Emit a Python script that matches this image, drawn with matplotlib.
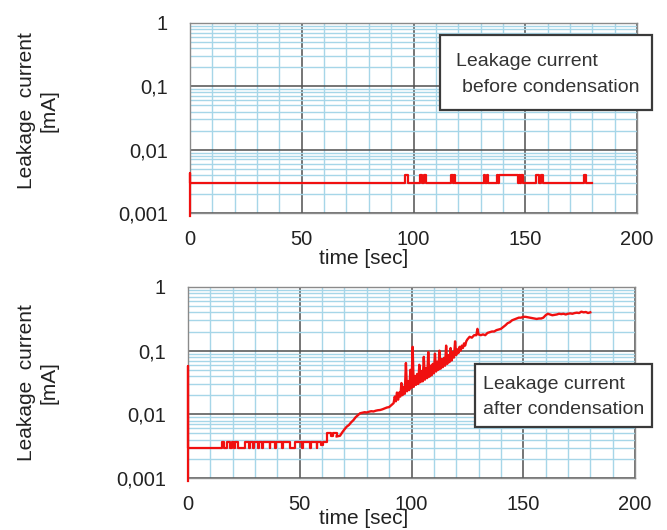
import matplotlib
matplotlib.use("Agg")
import matplotlib.pyplot as plt
from matplotlib.patches import Rectangle
from matplotlib.ticker import FixedLocator, LogLocator, NullFormatter

plt.rcParams['font.family'] = ['Liberation Sans', 'DejaVu Sans']

# ---------------- data ----------------
x_ticks = [0, 50, 100, 150, 200]
x_tick_labels = ["0", "50", "100", "150", "200"]
y_ticks = [0.001, 0.01, 0.1, 1]
y_tick_labels = ["0,001", "0,01", "0,1", "1"]

# before condensation (step trace)
before_t = [0, 0, 0, 96.0, 97.4, 102.8, 104.0, 104.6, 105.8, 117.0, 117.6, 118.0, 118.6,
            131.6, 132.2, 132.8, 133.4, 137.2, 137.8, 138.4, 146.6, 147.0, 147.5, 148.0, 149.1,
            155.0, 156.3, 156.9, 158.0, 176.3, 177.4, 179.7]
before_v = [0.0009, 0.0043, 0.003, 0.004, 0.003, 0.004, 0.003, 0.004, 0.003, 0.004, 0.003, 0.004, 0.003,
            0.004, 0.003, 0.004, 0.003, 0.004, 0.003, 0.004, 0.003, 0.004, 0.003, 0.004, 0.003,
            0.004, 0.003, 0.004, 0.003, 0.004, 0.003, 0.003]

# after condensation: early step part
after_step_t = [0, 0, 0, 15.1, 16.3, 17.3, 18.8, 19.5, 20.6, 21.2, 22.5,
                25.5, 27.2, 27.6, 29.0, 29.6, 31.5, 31.9, 33.0, 33.6, 36.5, 36.9, 39.0,
                39.5, 42.2, 42.6, 45.6, 47.9, 51.0, 51.4, 54.5, 54.9, 57.5, 57.9, 59.5,
                60.5, 62.0, 64.0, 65.0, 66.5]
after_step_v = [0.0009, 0.058, 0.003, 0.0037, 0.003, 0.0037, 0.003, 0.0037, 0.003, 0.0037, 0.003,
                0.0037, 0.003, 0.0037, 0.003, 0.0037, 0.003, 0.0037, 0.003, 0.0037, 0.003, 0.0037, 0.003,
                0.0037, 0.003, 0.0037, 0.003, 0.0037, 0.003, 0.0037, 0.003, 0.0037, 0.003, 0.0037, 0.0033,
                0.0037, 0.0051, 0.0045, 0.0051, 0.0045]

# after condensation: rising part
after_t = [66.5, 68, 69, 70, 71, 72, 73, 74, 75, 76, 77, 78, 79, 80, 81, 82, 83, 84, 85, 86, 87, 88,
           89, 90, 91, 92, 92.5, 93, 93.5,
           94, 94.5, 95, 95.5, 96, 96.5, 97, 97.5, 98, 98.5, 99, 99.5,
           100, 100.5, 101, 101.5, 102, 102.5, 103, 103.5, 104, 104.5, 105, 105.5,
           106, 106.5, 107, 107.5, 108, 108.5, 109, 109.5, 110, 110.5, 111, 111.5,
           112, 112.5, 113, 113.5, 114, 114.5, 115, 115.5, 116, 116.5, 117, 117.5,
           118, 118.5, 119, 119.5, 120, 120.5, 121, 121.5, 122, 122.5, 123, 123.5,
           124, 124.5, 125, 126, 127, 128, 129, 129.5, 130, 131, 132, 133, 134,
           135, 136, 137, 138, 139, 140, 141, 142, 143, 144, 145, 146, 147, 148, 149, 150, 151,
           152, 153, 154, 155, 156, 157, 158, 159, 160, 161, 162, 163, 164, 165, 166, 167, 168,
           169, 170, 171, 172, 173, 174, 175, 176, 177, 178, 179, 180]
after_v = [0.0045, 0.0046, 0.0052, 0.0058, 0.0064, 0.0068, 0.0075, 0.0081, 0.009, 0.0097, 0.0104,
           0.0106, 0.0108, 0.0107, 0.011, 0.0112, 0.0111, 0.0114, 0.0116, 0.0117, 0.012, 0.0124,
           0.0128, 0.013, 0.014, 0.015, 0.019, 0.016, 0.022,
           0.017, 0.022, 0.019, 0.031, 0.02, 0.027, 0.021, 0.064, 0.023, 0.033, 0.024, 0.05,
           0.026, 0.115, 0.027, 0.04, 0.029, 0.043, 0.03, 0.06, 0.032, 0.048, 0.033, 0.08,
           0.035, 0.053, 0.037, 0.095, 0.039, 0.058, 0.041, 0.062, 0.044, 0.09, 0.047, 0.067,
           0.05, 0.1, 0.052, 0.074, 0.055, 0.077, 0.058, 0.12, 0.062, 0.085, 0.066, 0.11,
           0.07, 0.095, 0.078, 0.14, 0.085, 0.105, 0.092, 0.115, 0.1, 0.12, 0.11, 0.13,
           0.12, 0.14, 0.15, 0.165, 0.16, 0.175, 0.175, 0.22, 0.18, 0.175, 0.18, 0.175, 0.19,
           0.195, 0.2, 0.2, 0.21, 0.215, 0.22, 0.235, 0.25, 0.27, 0.28, 0.3, 0.31, 0.32, 0.33, 0.33, 0.34, 0.34,
           0.335, 0.33, 0.325, 0.32, 0.315, 0.32, 0.32, 0.33, 0.36, 0.38, 0.37, 0.36, 0.365, 0.37, 0.38, 0.375, 0.38,
           0.37, 0.38, 0.385, 0.38, 0.39, 0.395, 0.39, 0.41, 0.4, 0.405, 0.39, 0.4]

# ---------------- figure ----------------
W, H = 667, 530
fig = plt.figure(figsize=(W / 100, H / 100), dpi=100)

RED = "#f01010"
MAJ = "#505050"
MIN = "#a6d6e8"
TXT = "#222222"


def fx(px):
    return px / W


def fy(py):
    return 1 - py / H


def style_axes(ax):
    ax.set_xlim(0, 200)
    ax.set_yscale("log")
    ax.set_ylim(0.001, 1)
    ax.xaxis.set_major_locator(FixedLocator(x_ticks))
    ax.set_xticklabels(x_tick_labels)
    ax.xaxis.set_minor_locator(FixedLocator(list(range(0, 201, 10))))
    ax.yaxis.set_major_locator(FixedLocator(y_ticks))
    ax.set_yticklabels(y_tick_labels)
    ax.yaxis.set_minor_locator(LogLocator(base=10, subs=[2, 3, 4, 5, 6, 7, 8, 9], numticks=20))
    ax.yaxis.set_minor_formatter(NullFormatter())
    ax.grid(which="minor", color=MIN, linewidth=1.0, zorder=0)
    ax.grid(which="major", color=MAJ, linewidth=1.1, zorder=1)
    ax.set_axisbelow(True)
    ax.tick_params(which="both", length=0)
    ax.tick_params(axis="x", pad=12, labelsize=14.5, labelcolor=TXT)
    ax.tick_params(axis="y", pad=16, labelsize=14.5, labelcolor=TXT)
    for s in ax.spines.values():
        s.set_color("#8a8a8a")
        s.set_linewidth(1.0)


# top panel
ax1 = fig.add_axes([fx(190), fy(213), fx(637) - fx(190), fy(23) - fy(213)])
style_axes(ax1)
ax1.plot(before_t, before_v, color=RED, linewidth=1.6, drawstyle="steps-post", zorder=3, clip_on=False)

# bottom panel
ax2 = fig.add_axes([fx(188), fy(478), fx(635) - fx(188), fy(287) - fy(478)])
style_axes(ax2)
ax2.plot(after_step_t, after_step_v, color=RED, linewidth=1.6, drawstyle="steps-post", zorder=3, clip_on=False)
ax2.plot(after_t, after_v, color=RED, linewidth=1.7, zorder=3)

# y labels
for yc in (111, 383):
    fig.text(fx(38), fy(yc), "Leakage  current\n[mA]", rotation=90, ha="center", va="center",
             multialignment="center", fontsize=15, color=TXT, linespacing=1.2)

# x labels
for yc in (258, 519):
    fig.text(fx(364), fy(yc), "time [sec]", ha="center", va="center", fontsize=15, color=TXT)

# annotation boxes
box1 = Rectangle((fx(440), fy(110)), fx(652) - fx(440), fy(35) - fy(110), transform=fig.transFigure,
                 facecolor="white", edgecolor="#3a3a3a", linewidth=1.6, zorder=10)
fig.add_artist(box1)
fig.text(fx(456), fy(62), "Leakage current", ha="left", va="center", fontsize=14, color="#333333", zorder=11)
fig.text(fx(461.5), fy(87), "before condensation", ha="left", va="center", fontsize=14, color="#333333", zorder=11)

box2 = Rectangle((fx(475), fy(426.7)), fx(652) - fx(475), fy(364.3) - fy(426.7), transform=fig.transFigure,
                 facecolor="white", edgecolor="#3a3a3a", linewidth=1.6, zorder=10)
fig.add_artist(box2)
fig.text(fx(483.3), fy(384.3), "Leakage current", ha="left", va="center", fontsize=14, color="#333333", zorder=11)
fig.text(fx(483.3), fy(409.3), "after condensation", ha="left", va="center", fontsize=14, color="#333333", zorder=11)

fig.savefig("out.png", dpi=100, facecolor="white")
